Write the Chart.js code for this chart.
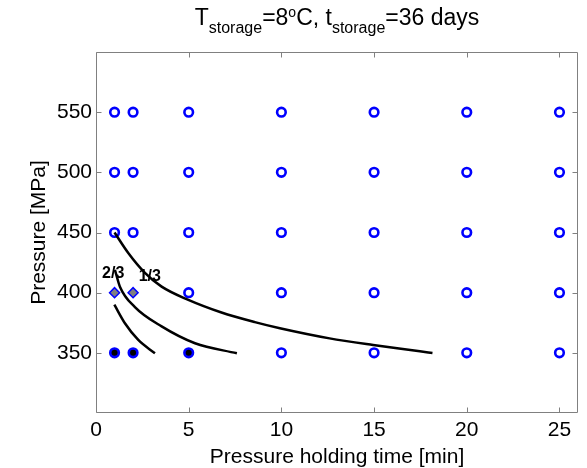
<!DOCTYPE html>
<html lang="en">
<head>
<meta charset="UTF-8">
<title>Pressure vs holding time</title>
<script src="https://cdn.jsdelivr.net/npm/chart.js"></script>
<style>
  html, body { margin: 0; padding: 0; background: #fff; }
  #wrap { width: 587px; height: 468px; }
</style>
</head>
<body>
<div id="wrap"><canvas id="myChart"></canvas></div>
<script>
    // grid of tested conditions
    var holdTimes = [1, 2, 5, 10, 15, 20, 25];
    var pressureLevels = [350, 400, 450, 500, 550];
    var xTicks = [0, 5, 10, 15, 20, 25];
    var yTicks = [350, 400, 450, 500, 550];

    // special markers
    var filledX = [1, 2, 5];
    var filledY = [350, 350, 350];
    var diamondX = [1, 2];
    var diamondY = [400, 400];

    // iso-lines
    var outerX = [1.0, 1.74, 2.64, 3.54, 4.98, 6.77, 8.57, 9.92, 12.6, 14.95, 17.47, 18.15];
    var outerY = [450, 433, 416.5, 405, 394, 383.5, 375.5, 370.4, 362, 356.5, 351.3, 349.8];
    var middleX = [1.02, 1.29, 2.1, 3.54, 5.34, 7.6];
    var middleY = [419, 405, 388, 372, 358, 349.6];
    var innerX = [0.99, 1.56, 2.28, 3.18];
    var innerY = [390, 374.6, 360.7, 349.6];

    var fractionLabels = ['2/3', '1/3'];
    var fractionX = [0.93, 2.9];
    var fractionY = [416, 413];

    function toPoints(xs, ys) {
        return xs.map(function (v, i) { return { x: v, y: ys[i] }; });
    }

    function isSpecial(t, p) {
        for (var i = 0; i < filledX.length; i++) if (filledX[i] === t && filledY[i] === p) return true;
        for (var j = 0; j < diamondX.length; j++) if (diamondX[j] === t && diamondY[j] === p) return true;
        return false;
    }

    var hollow = [];
    pressureLevels.forEach(function (p) {
        holdTimes.forEach(function (t) {
            if (!isSpecial(t, p)) hollow.push({ x: t, y: p });
        });
    });

    var FONT = "'Liberation Sans', Arial, sans-serif";
    Chart.defaults.font.family = FONT;
    Chart.defaults.color = '#000';

    function curve(xs, ys) {
        return {
            type: 'line',
            data: toPoints(xs, ys),
            borderColor: '#000',
            borderWidth: 2.5,
            pointRadius: 0,
            showLine: true,
            fill: false,
            cubicInterpolationMode: 'monotone',
            order: 0
        };
    }

    var boxPlugin = {
        id: 'boxPlugin',
        afterDraw: function (chart) {
            var ctx = chart.ctx, ca = chart.chartArea;
            var xs = chart.scales.x, ys = chart.scales.y;
            ctx.save();
            ctx.strokeStyle = '#808080';
            ctx.lineWidth = 1;
            var l = Math.round(ca.left) + 0.5, r = Math.round(ca.right) - 0.5;
            var t = Math.round(ca.top) + 0.5, b = Math.round(ca.bottom) - 0.5;
            ctx.beginPath();
            ctx.rect(l, t, r - l, b - t);
            xTicks.forEach(function (v) {
                var px = Math.round(xs.getPixelForValue(v)) + 0.5;
                ctx.moveTo(px, b); ctx.lineTo(px, b - 5);
                ctx.moveTo(px, t); ctx.lineTo(px, t + 5);
            });
            yTicks.forEach(function (v) {
                var py = Math.round(ys.getPixelForValue(v)) + 0.5;
                ctx.moveTo(l, py); ctx.lineTo(l + 5, py);
                ctx.moveTo(r, py); ctx.lineTo(r - 5, py);
            });
            ctx.stroke();

            // fraction labels on the curves
            ctx.fillStyle = '#000';
            ctx.font = 'bold 16px ' + FONT;
            ctx.textAlign = 'center';
            ctx.textBaseline = 'middle';
            fractionLabels.forEach(function (s, i) {
                ctx.fillText(s, xs.getPixelForValue(fractionX[i]), ys.getPixelForValue(fractionY[i]));
            });

            // title with sub/superscripts
            var parts = [
                { t: 'T', f: 23, dy: 0 },
                { t: 'storage', f: 16, dy: 8 },
                { t: '=8', f: 23, dy: 0 },
                { t: 'o', f: 14, dy: -8 },
                { t: 'C, t', f: 23, dy: 0 },
                { t: 'storage', f: 16, dy: 8 },
                { t: '=36 days', f: 23, dy: 0 }
            ];
            ctx.textAlign = 'left';
            ctx.textBaseline = 'alphabetic';
            var total = 0;
            parts.forEach(function (p) {
                ctx.font = p.f + 'px ' + FONT;
                p.w = ctx.measureText(p.t).width;
                total += p.w;
            });
            var x0 = (ca.left + ca.right) / 2 - total / 2;
            parts.forEach(function (p) {
                ctx.font = p.f + 'px ' + FONT;
                ctx.fillText(p.t, x0, 25 + p.dy);
                x0 += p.w;
            });
            ctx.restore();
        }
    };

    var ctx = document.getElementById('myChart').getContext('2d');
    var myChart = new Chart(ctx, {
        type: 'scatter',
        data: {
            datasets: [
                curve(outerX, outerY),
                curve(middleX, middleY),
                curve(innerX, innerY),
                {
                    data: hollow,
                    pointStyle: 'circle',
                    pointRadius: 4.3,
                    pointBorderWidth: 2.6,
                    pointBorderColor: '#0000ff',
                    pointBackgroundColor: 'rgba(255,255,255,0)',
                    order: 1
                },
                {
                    data: toPoints(filledX, filledY),
                    pointStyle: 'circle',
                    pointRadius: 4.3,
                    pointBorderWidth: 2.6,
                    pointBorderColor: '#0000ff',
                    pointBackgroundColor: '#000',
                    order: 1
                },
                {
                    data: toPoints(diamondX, diamondY),
                    pointStyle: 'rectRot',
                    pointRadius: 5,
                    pointBorderWidth: 1.5,
                    pointBorderColor: '#0000ff',
                    pointBackgroundColor: '#808080',
                    order: 1
                }
            ]
        },
        options: {
            responsive: true,
            maintainAspectRatio: false,
            animation: false,
            layout: { padding: { top: 52, right: 9, left: 0, bottom: 0 } },
            plugins: {
                legend: { display: false },
                tooltip: { enabled: false }
            },
            scales: {
                x: {
                    type: 'linear',
                    min: 0,
                    max: 26,
                    afterBuildTicks: function (scale) {
                        scale.ticks = xTicks.map(function (v) { return { value: v }; });
                    },
                    afterFit: function (scale) { scale.height = 55; },
                    grid: { display: false, drawTicks: false },
                    border: { display: false },
                    ticks: { font: { size: 21 }, padding: 5, maxRotation: 0, color: '#000' },
                    title: {
                        display: true,
                        text: 'Pressure holding time [min]',
                        font: { size: 21 },
                        color: '#000',
                        padding: { top: 0, bottom: -2 }
                    }
                },
                y: {
                    type: 'linear',
                    min: 300,
                    max: 600,
                    afterBuildTicks: function (scale) {
                        scale.ticks = yTicks.map(function (v) { return { value: v }; });
                    },
                    afterFit: function (scale) { scale.width = 96; },
                    grid: { display: false, drawTicks: false },
                    border: { display: false },
                    ticks: { font: { size: 21 }, padding: 4, color: '#000' },
                    title: {
                        display: true,
                        text: 'Pressure [MPa]',
                        font: { size: 21 },
                        color: '#000',
                        padding: { top: 27, bottom: 0 }
                    }
                }
            }
        },
        plugins: [boxPlugin]
    });
</script>
</body>
</html>
